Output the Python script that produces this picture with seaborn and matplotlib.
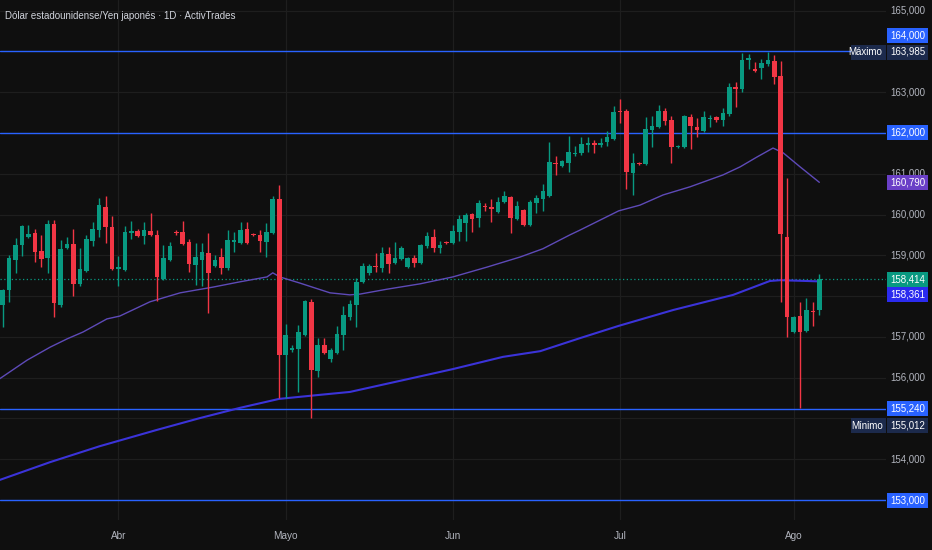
import numpy as np
import pandas as pd
import matplotlib
matplotlib.use("Agg")
import matplotlib.pyplot as plt
import seaborn as sns
from matplotlib.patches import Rectangle
from matplotlib.transforms import blended_transform_factory

# ---------------- data ----------------
open_ = [
    157.78, 158.15, 158.88, 159.25, 159.45, 159.55, 159.11, 158.93, 159.77, 157.78,
    159.18, 159.28, 158.30, 158.62, 159.35, 159.62, 160.19, 159.69, 158.66, 158.64,
    159.55, 159.60, 159.47, 159.60, 159.50, 158.42, 158.88, 159.57, 159.57, 159.33,
    158.76, 158.88, 159.06, 158.74, 158.96, 158.69, 159.33, 159.30, 159.65, 159.52,
    159.50, 159.33, 159.55, 160.38, 156.56, 156.68, 156.70, 157.05, 157.86, 156.16,
    156.80, 156.46, 156.60, 157.05, 157.49, 157.78, 158.35, 158.57, 158.74, 158.69,
    159.03, 158.81, 158.91, 158.71, 158.93, 158.81, 159.23, 159.45, 159.18, 159.33,
    159.30, 159.57, 159.79, 160.01, 159.91, 160.21, 160.19, 160.06, 160.31, 160.43,
    159.89, 160.11, 159.74, 160.28, 160.38, 160.45, 161.27, 161.19, 161.27, 161.49,
    161.51, 161.71, 161.75, 161.71, 161.78, 161.85, 162.54, 162.54, 161.02, 161.26,
    161.24, 162.08, 162.15, 162.54, 162.32, 161.66, 161.66, 162.39, 162.15, 162.05,
    162.34, 162.39, 162.32, 162.47, 163.13, 163.08, 163.79, 163.57, 163.59, 163.69,
    163.77, 163.40, 159.45, 157.12, 157.51, 157.14, 157.63, 157.66]
high = [
    158.17, 159.01, 159.42, 159.74, 159.74, 159.65, 159.50, 159.87, 159.87, 159.38,
    159.45, 159.65, 159.18, 159.50, 159.82, 160.41, 160.45, 159.96, 158.98, 159.72,
    159.84, 159.65, 159.82, 160.04, 159.62, 159.25, 159.33, 159.62, 159.84, 159.40,
    159.30, 159.30, 159.55, 159.01, 159.18, 159.62, 159.57, 159.82, 159.82, 159.55,
    159.62, 159.79, 160.45, 160.72, 157.32, 156.80, 157.29, 157.90, 157.93, 156.97,
    156.97, 156.73, 157.27, 157.76, 157.90, 158.44, 158.81, 158.79, 159.06, 159.20,
    159.20, 159.33, 159.23, 158.96, 159.01, 159.28, 159.57, 159.65, 159.35, 159.35,
    159.74, 159.99, 160.04, 160.04, 160.36, 160.28, 160.38, 160.43, 160.58, 160.45,
    160.33, 160.14, 160.36, 160.48, 160.75, 161.78, 161.44, 161.34, 161.93, 161.68,
    161.90, 161.90, 161.83, 161.88, 162.05, 162.66, 162.83, 162.59, 161.51, 161.29,
    162.39, 162.42, 162.69, 162.61, 162.42, 161.71, 162.44, 162.47, 162.37, 162.54,
    162.44, 162.42, 162.61, 163.23, 163.25, 163.96, 163.94, 163.74, 163.81, 163.985,
    163.91, 163.77, 160.90, 157.51, 157.86, 157.95, 157.86, 158.54]
low = [
    157.24, 157.86, 158.57, 158.98, 159.42, 158.84, 158.71, 158.57, 157.49, 157.73,
    159.16, 158.00, 158.25, 158.59, 159.23, 159.45, 159.30, 158.64, 158.25, 158.61,
    159.40, 159.45, 159.28, 159.47, 157.88, 158.39, 158.86, 159.50, 159.26, 158.59,
    158.27, 158.25, 157.59, 158.71, 158.54, 158.64, 159.08, 159.28, 159.28, 159.47,
    159.08, 158.96, 159.53, 155.50, 155.50, 156.63, 155.65, 157.02, 155.012, 156.02,
    156.58, 156.38, 156.58, 156.68, 157.41, 157.24, 158.32, 158.52, 158.59, 158.59,
    158.57, 158.79, 158.88, 158.69, 158.71, 158.79, 159.18, 159.08, 159.06, 159.28,
    159.28, 159.35, 159.35, 159.57, 159.69, 160.09, 159.82, 160.04, 160.28, 159.55,
    159.87, 159.72, 159.72, 160.04, 160.09, 160.43, 160.97, 161.17, 161.04, 161.44,
    161.46, 161.53, 161.51, 161.66, 161.68, 161.83, 162.25, 160.63, 160.48, 161.21,
    161.22, 161.66, 162.12, 162.20, 161.26, 161.63, 161.63, 161.61, 161.90, 162.02,
    162.15, 162.27, 162.17, 162.42, 162.64, 163.00, 163.57, 163.50, 163.32, 163.64,
    163.20, 157.86, 156.99, 157.10, 155.25, 157.12, 157.27, 157.54]
close = [
    158.15, 158.93, 159.25, 159.72, 159.52, 159.08, 158.91, 159.77, 157.83, 159.15,
    159.28, 158.30, 158.66, 159.40, 159.65, 160.23, 159.69, 158.66, 158.71, 159.57,
    159.60, 159.47, 159.62, 159.50, 158.47, 158.93, 159.23, 159.54, 159.28, 158.79,
    158.96, 159.08, 158.57, 158.88, 158.69, 159.38, 159.38, 159.62, 159.30, 159.50,
    159.35, 159.57, 160.38, 156.56, 157.05, 156.73, 157.12, 157.88, 156.19, 156.80,
    156.60, 156.68, 157.07, 157.54, 157.81, 158.35, 158.74, 158.74, 158.71, 159.06,
    158.79, 158.93, 159.18, 158.93, 158.81, 159.25, 159.47, 159.18, 159.25, 159.30,
    159.60, 159.89, 159.99, 159.89, 160.28, 160.19, 160.14, 160.31, 160.45, 159.91,
    160.21, 159.74, 160.31, 160.41, 160.58, 161.29, 161.24, 161.31, 161.53, 161.51,
    161.73, 161.75, 161.71, 161.75, 161.90, 162.51, 162.51, 161.04, 161.26, 161.24,
    162.10, 162.18, 162.54, 162.29, 161.66, 161.68, 162.42, 162.17, 162.07, 162.39,
    162.37, 162.32, 162.49, 163.13, 163.08, 163.79, 163.84, 163.52, 163.71, 163.79,
    163.37, 159.52, 157.49, 157.49, 157.12, 157.66, 157.61, 158.414]

# moving averages (sampled at bar index)
ma_fast_idx = [-0.5, 3.8, 7.4, 10, 12.5, 16.2, 18.2, 22.9, 27.6, 32.7, 36.9, 41.1, 42.0, 43.1,
               46.2, 50.9, 54, 55.6, 59.8, 64.9, 70, 75.3, 80.5, 84, 88.2, 89.8, 95.8, 99.1,
               102.7, 106.9, 112, 114.7, 117.3, 119.8, 121.4, 124, 127]
ma_fast_val = [155.97, 156.43, 156.75, 156.95, 157.12, 157.44, 157.51, 157.86, 158.08, 158.22,
               158.35, 158.47, 158.57, 158.47, 158.32, 158.08, 158.03, 158.05, 158.17, 158.30,
               158.47, 158.71, 158.96, 159.16, 159.50, 159.62, 160.09, 160.23, 160.48, 160.68,
               160.97, 161.17, 161.41, 161.63, 161.51, 161.17, 160.79]
ma_slow_idx = [-0.5, 7.4, 15.1, 24, 30.7, 36.9, 43, 49.4, 54, 62.3, 70, 77.8, 83.6, 89.8,
               95.8, 104.3, 113.6, 119.3, 120.9, 127]
ma_slow_val = [153.49, 153.93, 154.32, 154.72, 155.01, 155.26, 155.48, 155.58, 155.65, 155.94,
               156.21, 156.51, 156.65, 156.97, 157.27, 157.66, 158.03, 158.37, 158.39, 158.361]

levels = [164.0, 162.0, 155.24, 153.0]
level_labels = ["164,000", "162,000", "155,240", "153,000"]
max_price, min_price = 163.985, 155.012
last_price = 158.414
ma_fast_last, ma_slow_last = 160.790, 158.361
month_idx = [18, 44, 70, 96, 123]
month_labels = ["Abr", "Mayo", "Jun", "Jul", "Ago"]
grid_prices = [165, 164, 163, 162, 161, 160, 159, 158, 157, 156, 155, 154, 153]
tick_prices = [165, 163, 161, 160, 159, 157, 156, 154]   # labels not hidden by tags
title = "Dólar estadounidense/Yen japonés · 1D · ActivTrades"

assert len(open_) == len(high) == len(low) == len(close) == 128

# ---------------- style ----------------
BG = "#0f0f0f"
GRID = "#1e1e1e"
UP, DOWN = "#089981", "#f23645"
BLUE = "#2962ff"
TXT = "#b2b5be"

sns.set_theme(style="dark")
plt.rcParams["font.family"] = ["Liberation Sans Narrow", "Liberation Sans", "DejaVu Sans"]

df = pd.DataFrame({"open": open_, "high": high, "low": low, "close": close})
df["idx"] = np.arange(len(df))
df["up"] = df["close"] >= df["open"]
df["color"] = np.where(df["up"], UP, DOWN)

fig = plt.figure(figsize=(9.32, 5.5), dpi=100, facecolor=BG)
ax = fig.add_axes([0, 30 / 550, 886 / 932, 520 / 550])
ax.set_facecolor(BG)
for s in ax.spines.values():
    s.set_visible(False)

ax.set_xlim(-0.42, 137.37)
ax.set_ylim(152.51, 165.26)

# grid
for p in grid_prices:
    ax.axhline(p, color=GRID, lw=0.9, zorder=0)
for m in month_idx:
    ax.axvline(m, color=GRID, lw=0.9, zorder=0)

# horizontal levels
for lv in levels:
    ax.axhline(lv, color=BLUE, lw=1.0, zorder=1)

# moving averages
sns.lineplot(x=ma_slow_idx, y=ma_slow_val, ax=ax, color="#3b33d9", lw=1.5, zorder=2)
sns.lineplot(x=ma_fast_idx, y=ma_fast_val, ax=ax, color="#5e4ab8", lw=1.0, zorder=2)

# last price dotted line
ax.axhline(last_price, color=UP, lw=0.9, ls=(0, (1, 2)), zorder=1)

# candles
ax.vlines(df["idx"], df["low"], df["high"], colors=df["color"], lw=1.0, zorder=3)
body_lo = np.minimum(df["open"], df["close"])
body_h = np.maximum(np.abs(df["close"] - df["open"]), 0.03)
ax.bar(df["idx"], body_h, bottom=body_lo, width=0.72, color=df["color"], lw=0, zorder=4)

ax.set_xticks([])
ax.set_yticks([])

# title
ax.text(0.006, 1 - 16 / 520, title, transform=ax.transAxes, ha="left", va="center",
        color="#d1d4dc", fontsize=7.0)

# x labels
tr_x = blended_transform_factory(ax.transData, ax.transAxes)
for m, lab in zip(month_idx, month_labels):
    ax.text(m, -16 / 520, lab, transform=tr_x, ha="center", va="center", color=TXT,
            fontsize=7.2, clip_on=False)

# right axis
tr_y = blended_transform_factory(ax.transAxes, ax.transData)
px = (165.26 - 152.51) / 520  # price per pixel
for p in tick_prices:
    ax.text(925 / 886, p, f"{p},000", transform=tr_y, ha="right", va="center",
            color=TXT, fontsize=7.0, clip_on=False, zorder=5)


def tag(y, text, fc, tc="white", x0=887, x1=928):
    ax.add_patch(Rectangle((x0 / 886, y - 7.5 * px), (x1 - x0) / 886, 15 * px,
                           transform=tr_y, fc=fc, ec="none", clip_on=False, zorder=6))
    ax.text((x1 - 3) / 886, y, text, transform=tr_y, ha="right", va="center",
            color=tc, fontsize=7.0, clip_on=False, zorder=7)


NAVY = "#1c2a4c"
tag(levels[0] + 16 * px, level_labels[0], BLUE)
tag(max_price, "163,985", NAVY)
tag(max_price, "Máximo", NAVY, x0=851, x1=885.5)
tag(levels[1], level_labels[1], BLUE)
tag(ma_fast_last, "160,790", "#6a3fc7")
tag(last_price, "158,414", UP)
tag(last_price - 15 * px, "158,361", "#2b2bef")
tag(levels[2], level_labels[2], BLUE)
tag(min_price - 8 * px, "155,012", NAVY)
tag(min_price - 8 * px, "Mínimo", NAVY, x0=851, x1=885.5)
tag(levels[3], level_labels[3], BLUE)

fig.savefig("out.png", dpi=100, facecolor=BG)
